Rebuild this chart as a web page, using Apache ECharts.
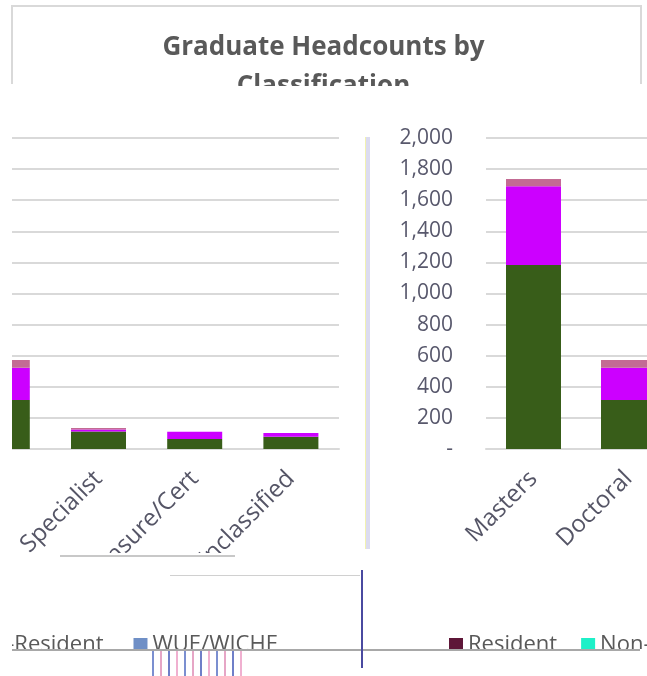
<!DOCTYPE html>
<html>
<head>
<meta charset="utf-8">
<script src="https://cdn.jsdelivr.net/npm/echarts@6/dist/echarts.min.js"></script>
<style>
html,body{margin:0;padding:0;background:#fff;}
#chart{width:647px;height:676px;}
</style>
</head>
<body>
<div id="chart"></div>
<script>
// ---- data ----
var titleText = 'Graduate Headcounts by\nClassification';
var categories = ['Masters', 'Doctoral', 'Specialist', 'Licensure/Cert', 'Unclassified'];
var resident = [1183, 315, 113, 64, 79];
var nonResident = [506, 207, 13, 47, 24];
var wueWiche = [47, 50, 9, 0, 0];
var seriesNames = ['Resident', 'Non-Resident', 'WUE/WICHE'];
var yMin = 0, yMax = 2000, yStep = 200;

// ---- styles ----
var FONT = 'Open Sans';
var TXT = '#595959';
var GRID = '#d9d9d9';
var barColors = ['#385d19', '#cc00ff', '#c36b94'];
var seriesData = [resident, nonResident, wueWiche];

function fmt(v) {
  if (v === 0) return '-';
  return v.toString().replace(/\B(?=(\d{3})+(?!\d))/g, ',');
}

var chart = echarts.init(document.getElementById('chart'), null, {renderer: 'canvas'});

function xAxisFor(gi) {
  return {
    type: 'category', gridIndex: gi, data: categories,
    axisTick: {show: false},
    axisLine: {show: true, lineStyle: {color: GRID, width: 2}},
    axisLabel: {rotate: 45, margin: 26, fontSize: 24, fontFamily: FONT, color: '#555566', interval: 0, hideOverlap: false}
  };
}
function yAxisFor(gi, showLabels) {
  return {
    type: 'value', gridIndex: gi, min: yMin, max: yMax, interval: yStep,
    axisLine: {show: false}, axisTick: {show: false},
    splitLine: {show: true, lineStyle: {color: GRID, width: 2}},
    axisLabel: {show: showLabels, margin: 33, fontSize: 21, fontFamily: FONT, color: '#58586c', formatter: fmt}
  };
}

var series = [];
[0, 1].forEach(function (gi) {
  seriesNames.forEach(function (nm, si) {
    series.push({
      name: nm, type: 'bar', stack: 'g' + gi,
      xAxisIndex: gi, yAxisIndex: gi,
      barWidth: 55,
      itemStyle: {color: barColors[si]},
      data: seriesData[si],
      animation: false
    });
  });
});

// decorative glitch stripes (not data)
var stripes = [];
var stripeCols = ['#7b8fd0', '#e6a6c6', '#6f7fc8', '#f0b0d0'];
for (var i = 0; i < 12; i++) {
  stripes.push({type: 'rect', z: 101, shape: {x: 152 + i * 8, y: 651, width: 2, height: 25},
    style: {fill: stripeCols[i % 4]}});
}

var graphics = [
  // clip second title line
  {type: 'rect', z: 100, shape: {x: 0, y: 86, width: 647, height: 40}, style: {fill: '#fff'}},
  // top border
  {type: 'polyline', z: 101, shape: {points: [[12, 84], [12, 6], [641, 6], [641, 84]]},
    style: {stroke: GRID, lineWidth: 2, fill: null}},
  // left clip
  {type: 'rect', z: 100, shape: {x: 0, y: 127, width: 12, height: 430}, style: {fill: '#fff'}},
  {type: 'rect', z: 100, shape: {x: 0, y: 620, width: 12, height: 30}, style: {fill: '#fff'}},
  // right-edge clip of next label fragment
  {type: 'rect', z: 100, shape: {x: 639, y: 528, width: 8, height: 26}, style: {fill: '#fff'}},
  // lower clip band
  {type: 'rect', z: 100, shape: {x: 0, y: 553, width: 647, height: 73}, style: {fill: '#fff'}},
  // bottom clip
  {type: 'rect', z: 100, shape: {x: 0, y: 649, width: 647, height: 27}, style: {fill: '#fff'}},
  {type: 'rect', z: 101, shape: {x: 12, y: 649, width: 628, height: 2}, style: {fill: '#a8a8a8'}},
  {type: 'rect', z: 101, shape: {x: 60, y: 555, width: 175, height: 2}, style: {fill: '#c8c8c8'}},
  {type: 'rect', z: 101, shape: {x: 170, y: 575, width: 190, height: 1}, style: {fill: '#d0d0d0'}},
  // divider
  {type: 'rect', z: 101, shape: {x: 366, y: 137, width: 4, height: 412}, style: {fill: '#dcdcf0'}},
  {type: 'rect', z: 101, shape: {x: 365, y: 137, width: 1, height: 412}, style: {fill: '#f2f2b0'}},
  // vertical glitch line
  {type: 'rect', z: 101, shape: {x: 361, y: 570, width: 2, height: 98}, style: {fill: '#4a4aa0'}}
].concat(stripes);

var option = {
  backgroundColor: '#ffffff',
  animation: false,
  title: {
    text: titleText, left: 'center', top: 23,
    textStyle: {fontSize: 26, fontWeight: 'bold', fontFamily: FONT, color: TXT, lineHeight: 39}
  },
  legend: [
    {
      left: -60, top: 629, width: 600, icon: 'rect', itemWidth: 14, itemHeight: 14, itemGap: 30,
      textStyle: {fontSize: 22, fontFamily: FONT, color: TXT},
      data: [{name: 'Non-Resident', itemStyle: {color: '#cc00ff'}},
             {name: 'WUE/WICHE', itemStyle: {color: '#6f8fc6'}}],
      selectedMode: false
    },
    {
      left: 444, top: 629, width: 600, icon: 'rect', itemWidth: 14, itemHeight: 14, itemGap: 24,
      textStyle: {fontSize: 22, fontFamily: FONT, color: TXT},
      data: [{name: 'Resident', itemStyle: {color: '#5e1638'}},
             {name: 'Non-Resident', itemStyle: {color: '#1ef0c8'}}],
      selectedMode: false
    }
  ],
  grid: [
    {right: 308, width: 481, top: 138, height: 311, outerBoundsMode: 'none', containLabel: false},
    {left: 486, width: 475, top: 138, height: 311, outerBoundsMode: 'none', containLabel: false}
  ],
  xAxis: [xAxisFor(0), xAxisFor(1)],
  yAxis: [yAxisFor(0, false), yAxisFor(1, true)],
  series: series,
  graphic: graphics
};
chart.setOption(option);
</script>
</body>
</html>
